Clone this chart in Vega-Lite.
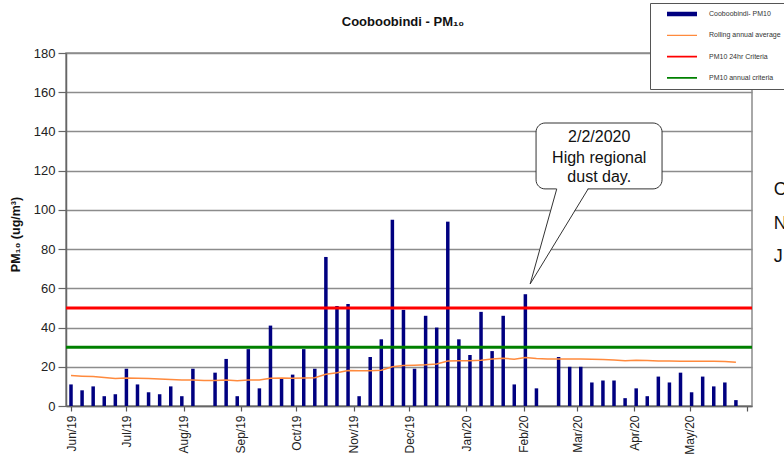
{
  "$schema": "https://vega.github.io/schema/vega-lite/v6.json",
  "width": 686,
  "height": 353,
  "autosize": {"type": "none"},
  "padding": {"left": 66, "top": 53, "right": 32, "bottom": 55},
  "background": "white",
  "config": {
    "font": "Liberation Sans",
    "view": {"stroke": "#8c8c8c", "strokeWidth": 1.5},
    "title": {"font": "Liberation Sans"}
  },
  "title": {"text": "Cooboobindi  - PM₁₀", "fontSize": 13, "fontWeight": "bold", "anchor": "middle", "frame": "group", "offset": -26, "dx": -6, "color": "#111"},
  "datasets": {
    "pm": [
      {"date": "2019/06/01", "pm10": 11, "avg": 15.5},
      {"date": "2019/06/07", "pm10": 8, "avg": 15.2},
      {"date": "2019/06/13", "pm10": 10, "avg": 15.0},
      {"date": "2019/06/19", "pm10": 5, "avg": 14.5},
      {"date": "2019/06/25", "pm10": 6, "avg": 14.0},
      {"date": "2019/07/01", "pm10": 19, "avg": 14.3},
      {"date": "2019/07/07", "pm10": 11, "avg": 14.2},
      {"date": "2019/07/13", "pm10": 7, "avg": 14.0},
      {"date": "2019/07/19", "pm10": 6, "avg": 13.8},
      {"date": "2019/07/25", "pm10": 10, "avg": 13.5},
      {"date": "2019/07/31", "pm10": 5, "avg": 13.3},
      {"date": "2019/08/06", "pm10": 19, "avg": 13.3},
      {"date": "2019/08/12", "pm10": null, "avg": 13.0},
      {"date": "2019/08/18", "pm10": 17, "avg": 13.0},
      {"date": "2019/08/24", "pm10": 24, "avg": 13.2},
      {"date": "2019/08/30", "pm10": 5, "avg": 12.9},
      {"date": "2019/09/05", "pm10": 29, "avg": 13.3},
      {"date": "2019/09/11", "pm10": 9, "avg": 13.3},
      {"date": "2019/09/17", "pm10": 41, "avg": 14.2},
      {"date": "2019/09/23", "pm10": 14, "avg": 14.3},
      {"date": "2019/09/29", "pm10": 16, "avg": 14.2},
      {"date": "2019/10/05", "pm10": 29, "avg": 14.3},
      {"date": "2019/10/11", "pm10": 19, "avg": 14.4},
      {"date": "2019/10/17", "pm10": 76, "avg": 16.2},
      {"date": "2019/10/23", "pm10": 51, "avg": 17.0},
      {"date": "2019/10/29", "pm10": 52, "avg": 18.1},
      {"date": "2019/11/04", "pm10": 5, "avg": 18.0},
      {"date": "2019/11/10", "pm10": 25, "avg": 18.0},
      {"date": "2019/11/16", "pm10": 34, "avg": 18.2},
      {"date": "2019/11/22", "pm10": 95, "avg": 20.0},
      {"date": "2019/11/28", "pm10": 49, "avg": 20.6},
      {"date": "2019/12/04", "pm10": 19, "avg": 20.8},
      {"date": "2019/12/10", "pm10": 46, "avg": 21.0},
      {"date": "2019/12/16", "pm10": 40, "avg": 21.4},
      {"date": "2019/12/22", "pm10": 94, "avg": 22.9},
      {"date": "2019/12/28", "pm10": 34, "avg": 23.1},
      {"date": "2020/01/03", "pm10": 26, "avg": 23.1},
      {"date": "2020/01/09", "pm10": 48, "avg": 23.3},
      {"date": "2020/01/15", "pm10": 28, "avg": 24.0},
      {"date": "2020/01/21", "pm10": 46, "avg": 24.3},
      {"date": "2020/01/27", "pm10": 11, "avg": 23.9},
      {"date": "2020/02/02", "pm10": 57, "avg": 24.7},
      {"date": "2020/02/08", "pm10": 9, "avg": 24.2},
      {"date": "2020/02/14", "pm10": null, "avg": 24.0},
      {"date": "2020/02/20", "pm10": 25, "avg": 24.0},
      {"date": "2020/02/26", "pm10": 20, "avg": 24.0},
      {"date": "2020/03/03", "pm10": 20, "avg": 24.0},
      {"date": "2020/03/09", "pm10": 12, "avg": 23.8},
      {"date": "2020/03/15", "pm10": 13, "avg": 23.7},
      {"date": "2020/03/21", "pm10": 13, "avg": 23.5},
      {"date": "2020/03/27", "pm10": 4, "avg": 23.1},
      {"date": "2020/04/02", "pm10": 9, "avg": 23.3},
      {"date": "2020/04/08", "pm10": 5, "avg": 23.2},
      {"date": "2020/04/14", "pm10": 15, "avg": 23.0},
      {"date": "2020/04/20", "pm10": 12, "avg": 22.9},
      {"date": "2020/04/26", "pm10": 17, "avg": 22.8},
      {"date": "2020/05/02", "pm10": 7, "avg": 22.8},
      {"date": "2020/05/08", "pm10": 15, "avg": 22.8},
      {"date": "2020/05/14", "pm10": 10, "avg": 22.8},
      {"date": "2020/05/20", "pm10": 12, "avg": 22.7},
      {"date": "2020/05/26", "pm10": 3, "avg": 22.3}
    ]
  },
  "layer": [
    {
      "data": {"name": "pm"},
      "mark": {"type": "bar", "width": 3.5, "color": "#000080"},
      "encoding": {
        "x": {
          "field": "date", "type": "temporal",
          "scale": {"domain": [{"year": 2019, "month": 6, "date": 1}, {"year": 2020, "month": 6, "date": 1}], "nice": false},
          "axis": {
            "title": null,
            "values": [
              {"year": 2019, "month": 6, "date": 1}, {"year": 2019, "month": 7, "date": 1}, {"year": 2019, "month": 8, "date": 1},
              {"year": 2019, "month": 9, "date": 1}, {"year": 2019, "month": 10, "date": 1}, {"year": 2019, "month": 11, "date": 1},
              {"year": 2019, "month": 12, "date": 1}, {"year": 2020, "month": 1, "date": 1}, {"year": 2020, "month": 2, "date": 1},
              {"year": 2020, "month": 3, "date": 1}, {"year": 2020, "month": 4, "date": 1}, {"year": 2020, "month": 5, "date": 1},
              {"year": 2020, "month": 6, "date": 1}
            ],
            "tickCount": 20,
            "labelExpr": "(month(datum.value) == 5 && year(datum.value) == 2020) ? '' : timeFormat(datum.value, '%b/%y')",
            "labelAngle": 270, "labelAlign": "right", "labelBaseline": "middle",
            "labelFontSize": 12, "labelColor": "#222", "labelPadding": 4,
            "labelFlush": false, "labelOverlap": false, "labelBound": false,
            "tickSize": 5, "tickColor": "#555", "tickWidth": 1.2,
            "domainColor": "#666", "domainWidth": 1.5, "grid": false
          }
        },
        "y": {
          "field": "pm10", "type": "quantitative",
          "scale": {"domain": [0, 180], "nice": false},
          "axis": {
            "title": "PM₁₀ (ug/m³)",
            "values": [0, 20, 40, 60, 80, 100, 120, 140, 160, 180],
            "tickCount": 20,
            "labelOverlap": false,
            "grid": true, "gridColor": "#8c8c8c", "gridWidth": 1.5,
            "domainColor": "#666", "domainWidth": 1.5,
            "tickColor": "#666", "tickSize": 8, "tickWidth": 1.2,
            "labelFontSize": 13, "labelColor": "#222", "labelPadding": 3, "labelFlush": false,
            "titleFontSize": 12.5, "titleFontWeight": "bold", "titleColor": "#111",
            "titleX": -51, "titleY": 181, "titleAngle": 270, "titleAlign": "center", "titleBaseline": "middle"
          }
        }
      }
    },
    {
      "data": {"name": "pm"},
      "mark": {"type": "line", "color": "#ff8a3d", "strokeWidth": 1.5},
      "encoding": {
        "x": {"field": "date", "type": "temporal"},
        "y": {"field": "avg", "type": "quantitative"}
      }
    },
    {
      "data": {"values": [{"lim": 50}]},
      "mark": {"type": "rule", "color": "#ff0000", "strokeWidth": 3},
      "encoding": {"y": {"field": "lim", "type": "quantitative"}}
    },
    {
      "data": {"values": [{"lim": 30}]},
      "mark": {"type": "rule", "color": "#008000", "strokeWidth": 3},
      "encoding": {"y": {"field": "lim", "type": "quantitative"}}
    },
    {
      "data": {"values": [
        {"series": "Cooboobindi- PM10"},
        {"series": "Rolling annual average"},
        {"series": "PM10 24hr Criteria"},
        {"series": "PM10 annual criteria"}
      ]},
      "mark": {"type": "point", "filled": true, "opacity": 1},
      "encoding": {
        "x": {"field": "date", "type": "temporal"},
        "y": {"field": "v", "type": "quantitative"},
        "color": {
          "field": "series", "type": "nominal",
          "scale": {"domain": ["Cooboobindi- PM10", "Rolling annual average", "PM10 24hr Criteria", "PM10 annual criteria"], "range": ["#000080", "#ff8a3d", "#ff0000", "#008000"]},
          "legend": {"orient": "none", "legendX": 584, "legendY": -50, "title": null, "fillColor": "white", "strokeColor": "#555", "padding": 7, "symbolSize": 900, "symbolStrokeWidth": 0, "symbolOpacity": 1, "symbolOffset": 10, "labelOffset": 12, "clipHeight": 8, "rowPadding": 13.3, "labelFontSize": 7, "labelColor": "#333", "labelFont": "Liberation Sans"}
        },
        "shape": {
          "field": "series", "type": "nominal",
          "scale": {"domain": ["Cooboobindi- PM10", "Rolling annual average", "PM10 24hr Criteria", "PM10 annual criteria"], "range": ["M-1,-0.15H1V0.15H-1Z", "M-1,-0.04H1V0.04H-1Z", "M-1,-0.055H1V0.055H-1Z", "M-1,-0.055H1V0.055H-1Z"]},
          "legend": {"orient": "none", "legendX": 584, "legendY": -50, "title": null, "fillColor": "white", "strokeColor": "#555", "padding": 7, "symbolSize": 900, "symbolStrokeWidth": 0, "symbolOpacity": 1, "symbolOffset": 10, "labelOffset": 12, "clipHeight": 8, "rowPadding": 13.3, "labelFontSize": 7, "labelColor": "#333", "labelFont": "Liberation Sans"}
        }
      }
    },
    {
      "data": {"values": [{"x1": "2020/02/07 19:00", "x2": "2020/04/16 00:00", "y1": 144.3, "y2": 110.7}]},
      "mark": {"type": "rect", "fill": "white", "stroke": "#333", "strokeWidth": 1, "cornerRadius": 9},
      "encoding": {
        "x": {"field": "x1", "type": "temporal"},
        "x2": {"field": "x2"},
        "y": {"field": "y1", "type": "quantitative"},
        "y2": {"field": "y2"}
      }
    },
    {
      "data": {"values": [
        {"y": 111.3, "xa": "2020/02/19 00:00", "xb": "2020/03/07 00:00"},
        {"y": 62.2, "xa": "2020/02/04 14:00", "xb": "2020/02/04 14:00"}
      ]},
      "mark": {"type": "area", "orient": "horizontal", "fill": "white", "opacity": 1},
      "encoding": {
        "y": {"field": "y", "type": "quantitative"},
        "x": {"field": "xa", "type": "temporal"},
        "x2": {"field": "xb"}
      }
    },
    {
      "data": {"values": [
        {"o": 1, "y": 110.7, "x": "2020/02/19 00:00"},
        {"o": 2, "y": 62.2, "x": "2020/02/04 14:00"},
        {"o": 3, "y": 110.7, "x": "2020/03/07 00:00"}
      ]},
      "mark": {"type": "line", "color": "#333", "strokeWidth": 1},
      "encoding": {
        "x": {"field": "x", "type": "temporal"},
        "y": {"field": "y", "type": "quantitative"},
        "order": {"field": "o", "type": "quantitative"}
      }
    },
    {
      "data": {"values": [
        {"t": "2/2/2020", "x": "2020/03/13 00:00", "y": 137.0},
        {"t": "High regional", "x": "2020/03/13 00:00", "y": 126.3},
        {"t": "dust day.", "x": "2020/03/13 00:00", "y": 116.7}
      ]},
      "mark": {"type": "text", "fontSize": 16, "color": "#111", "align": "center", "baseline": "middle", "font": "Liberation Sans"},
      "encoding": {
        "x": {"field": "x", "type": "temporal"},
        "y": {"field": "y", "type": "quantitative"},
        "text": {"field": "t"}
      }
    },
    {
      "data": {"values": [
        {"t": "C", "x": "2020/06/15 10:00", "y": 110.1},
        {"t": "N", "x": "2020/06/15 10:00", "y": 92.8},
        {"t": "J", "x": "2020/06/15 10:00", "y": 76.0}
      ]},
      "mark": {"type": "text", "fontSize": 18, "color": "#111", "align": "left", "baseline": "middle", "font": "Liberation Sans"},
      "encoding": {
        "x": {"field": "x", "type": "temporal"},
        "y": {"field": "y", "type": "quantitative"},
        "text": {"field": "t"}
      }
    }
  ]
}
